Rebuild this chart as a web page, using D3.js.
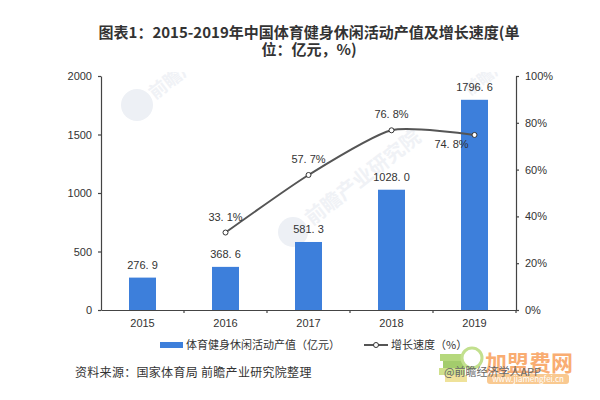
<!DOCTYPE html>
<html>
<head>
<meta charset="utf-8">
<script src="https://cdn.jsdelivr.net/npm/d3@7"></script>
<style>
	html, body { margin: 0; padding: 0; background: #fff; }
	text { font-family: "Noto Sans CJK SC", "Liberation Sans", sans-serif; fill: #333; }
	.num { font-family: "Liberation Sans", "Noto Sans CJK SC", sans-serif; font-size: 11px; }
</style>
</head>
<body>
<svg id="chart" width="600" height="400"></svg>
<script>
var years = ["2015", "2016", "2017", "2018", "2019"]
var outputValues = [276.9, 368.6, 581.3, 1028.0, 1796.6]
var outputLabels = ["276. 9", "368. 6", "581. 3", "1028. 0", "1796. 6"]
var growthYears = ["2016", "2017", "2018", "2019"]
var growthValues = [33.1, 57.7, 76.8, 74.8]
var growthLabels = ["33. 1%", "57. 7%", "76. 8%", "74. 8%"]
var leftTicks = [0, 500, 1000, 1500, 2000]
var rightTicks = [0, 20, 40, 60, 80, 100]
var titleLines = ["图表1：2015-2019年中国体育健身休闲活动产值及增长速度(单", "位：亿元，%)"]
var barName = "体育健身休闲活动产值（亿元）"
var lineName = "增长速度（%）"
var sourceText = "资料来源：国家体育局 前瞻产业研究院整理"

var svg = d3.select("#chart")
var axisColor = "#444"
var barColor = "#3d7fdb"

var x = d3.scaleBand().domain(years).range([101, 516])
var yLeft = d3.scaleLinear().domain([0, 2000]).range([310, 76])
var yRight = d3.scaleLinear().domain([0, 100]).range([310, 76])
var mid = function(d) { return x(d) + x.bandwidth() / 2 }
var barWidth = 27

// faint watermarks behind the chart
svg.append("clipPath").attr("id", "markclip")
	.append("rect").attr("x", 0).attr("y", 72).attr("width", 600).attr("height", 240)
var markLayer = svg.append("g").attr("clip-path", "url(#markclip)")
var marks = [[155, 100, 18], [312, 226, 20], [470, 96, 16]]
marks.forEach(function(m) {
	markLayer.append("text")
		.attr("transform", "translate(" + m[0] + "," + m[1] + ") rotate(-38)")
		.attr("font-size", m[2])
		.attr("font-weight", "bold")
		.style("fill", "#f0f2f6")
		.text("前瞻产业研究院")
})
markLayer.append("circle").attr("cx", 137).attr("cy", 105).attr("r", 16).attr("fill", "#edf0f5")
markLayer.append("circle").attr("cx", 293).attr("cy", 232).attr("r", 15).attr("fill", "#edf0f5")

// bars
svg.selectAll("rect.bar")
	.data(outputValues)
	.enter().append("rect")
	.attr("class", "bar")
	.attr("x", function(d, i) { return mid(years[i]) - barWidth / 2 })
	.attr("y", function(d) { return yLeft(d) })
	.attr("width", barWidth)
	.attr("height", function(d) { return 310 - yLeft(d) })
	.attr("fill", barColor)

svg.selectAll("text.barlabel")
	.data(outputValues)
	.enter().append("text")
	.attr("class", "barlabel num")
	.attr("text-anchor", "middle")
	.attr("x", function(d, i) { return mid(years[i]) })
	.attr("y", function(d) { return yLeft(d) - 9 })
	.text(function(d, i) { return outputLabels[i] })

// axes
var styleAxis = function(g) {
	g.selectAll("path, line").attr("stroke", axisColor).attr("stroke-width", 1.2)
	g.selectAll("text").attr("class", "num").attr("fill", null)
}

svg.append("g")
	.attr("transform", "translate(101,0)")
	.call(d3.axisLeft(yLeft).tickValues(leftTicks).tickSize(3).tickPadding(6).tickSizeOuter(0)
		.tickFormat(function(d) { return "" + d }))
	.call(styleAxis)

svg.append("g")
	.attr("transform", "translate(516,0)")
	.call(d3.axisRight(yRight).tickValues(rightTicks).tickSize(3).tickPadding(6).tickSizeOuter(0)
		.tickFormat(function(d) { return d + "%" }))
	.call(styleAxis)

var xAxis = svg.append("g")
	.attr("transform", "translate(0,310)")
	.call(d3.axisBottom(x).tickSize(0).tickPadding(9))
	.call(styleAxis)
xAxis.selectAll("line.sep")
	.data(years)
	.enter().append("line")
	.attr("class", "sep")
	.attr("x1", function(d) { return x(d) + x.bandwidth() })
	.attr("x2", function(d) { return x(d) + x.bandwidth() })
	.attr("y1", 0)
	.attr("y2", 3)
	.attr("stroke", axisColor)
	.attr("stroke-width", 1.2)

// growth line
var line = d3.line()
	.x(function(d, i) { return mid(growthYears[i]) })
	.y(function(d) { return yRight(d) })
	.curve(d3.curveCardinal.tension(0.35))

svg.append("path")
	.attr("d", line(growthValues))
	.attr("fill", "none")
	.attr("stroke", "#555")
	.attr("stroke-width", 2)

svg.selectAll("circle.pt")
	.data(growthValues)
	.enter().append("circle")
	.attr("class", "pt")
	.attr("cx", function(d, i) { return mid(growthYears[i]) })
	.attr("cy", function(d) { return yRight(d) })
	.attr("r", 2.5)
	.attr("fill", "#fff")
	.attr("stroke", "#333")
	.attr("stroke-width", 1)

svg.selectAll("text.linelabel")
	.data(growthValues)
	.enter().append("text")
	.attr("class", "linelabel num")
	.attr("text-anchor", "middle")
	.attr("x", function(d, i) { return mid(growthYears[i]) - (i == 3 ? 23 : 0) })
	.attr("y", function(d, i) { return yRight(d) + (i == 3 ? 13 : -12) })
	.text(function(d, i) { return growthLabels[i] })

// title
svg.selectAll("text.title")
	.data(titleLines)
	.enter().append("text")
	.attr("class", "title")
	.attr("text-anchor", "middle")
	.attr("x", 309)
	.attr("y", function(d, i) { return 38 + i * 17 })
	.attr("font-size", 15)
	.attr("font-weight", "bold")
	.text(function(d) { return d })

// legend
svg.append("rect").attr("x", 160).attr("y", 342).attr("width", 23).attr("height", 6).attr("fill", barColor)
svg.append("text").attr("x", 186).attr("y", 349).attr("font-size", 11).text(barName)
svg.append("line").attr("x1", 364).attr("x2", 388).attr("y1", 345).attr("y2", 345).attr("stroke", "#555").attr("stroke-width", 2)
svg.append("circle").attr("cx", 376).attr("cy", 345).attr("r", 2.5).attr("fill", "#fff").attr("stroke", "#333")
svg.append("text").attr("x", 391).attr("y", 349).attr("font-size", 11).text(lineName)

// source line
svg.append("text").attr("x", 75).attr("y", 377).attr("font-size", 12).style("letter-spacing", "0.3px").text(sourceText)

// corner stamp
var stamp = svg.append("g")
var books = [[440, 354, 22, "#b5d87c"], [443, 361, 22, "#a3cc6c"], [439, 368, 26, "#cfe08c"], [445, 375, 22, "#efe29a"]]
books.forEach(function(b) {
	stamp.append("rect").attr("x", b[0]).attr("y", b[1]).attr("width", b[2]).attr("height", 7).attr("fill", b[3])
})
stamp.append("circle").attr("cx", 472).attr("cy", 358).attr("r", 10).attr("fill", "#fff").attr("stroke", "#c2e08e").attr("stroke-width", 3)
stamp.append("text").attr("x", 485).attr("y", 371).attr("font-size", 22).attr("font-weight", "bold").style("fill", "#f9ad72").text("加盟费网")
stamp.append("rect").attr("x", 487).attr("y", 374).attr("width", 82).attr("height", 10).attr("rx", 3).attr("fill", "#f9c990")
stamp.append("text").attr("x", 528).attr("y", 382).attr("text-anchor", "middle").attr("font-size", 8).style("fill", "#fff").text("www.jiamengfei.cn")
stamp.append("text").attr("x", 444).attr("y", 376).attr("font-size", 11).style("fill", "#666").text("@前瞻经济学人APP")
</script>
</body>
</html>
